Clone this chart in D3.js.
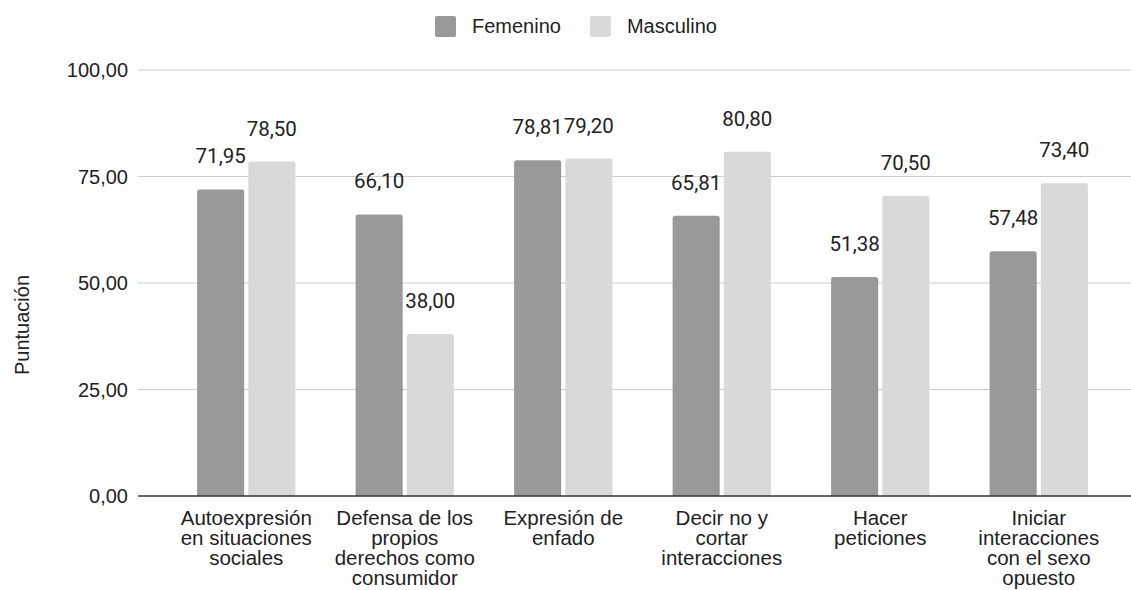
<!DOCTYPE html>
<html>
<head>
<meta charset="utf-8">
<script src="https://cdn.jsdelivr.net/npm/d3@7/dist/d3.min.js"></script>
<style>
  body { margin: 0; background: #fff; }
  svg { display: block; }
</style>
</head>
<body>
<svg id="chart" width="1131" height="590"></svg>
<script>
const categories = [
    "Autoexpresión en situaciones sociales",
    "Defensa de los propios derechos como consumidor",
    "Expresión de enfado",
    "Decir no y cortar interacciones",
    "Hacer peticiones",
    "Iniciar interacciones con el sexo opuesto"
];
const categoryLines = [
    ["Autoexpresión", "en situaciones", "sociales"],
    ["Defensa de los", "propios", "derechos como", "consumidor"],
    ["Expresión de", "enfado"],
    ["Decir no y", "cortar", "interacciones"],
    ["Hacer", "peticiones"],
    ["Iniciar", "interacciones", "con el sexo", "opuesto"]
];
const seriesNames = ["Femenino", "Masculino"];
const femenino = [71.95, 66.10, 78.81, 65.81, 51.38, 57.48];
const masculino = [78.50, 38.00, 79.20, 80.80, 70.50, 73.40];
const yTicks = [0, 25, 50, 75, 100];
const colors = ["#999999", "#d9d9d9"];

function drawChart() {
    const svg = d3.select("#chart");
    svg.selectAll("*").remove();

    const axisFont = "'Liberation Sans', Arial, sans-serif";
    const labelFont = "Roboto, 'Liberation Sans', sans-serif";
    const fmt = v => d3.format(".2f")(v).replace(".", ",");

    // plot area
    const gridLeft = 138, gridRight = 1131;
    const y = d3.scaleLinear().domain([0, 100]).range([496, 70]);

    const x = d3.scaleBand()
        .domain(categories)
        .range([167, 1118])
        .paddingInner(0.38)
        .paddingOuter(0.19);

    const xs = d3.scaleBand()
        .domain(seriesNames)
        .range([0, x.bandwidth()])
        .paddingInner(0.08);

    // gridlines + y tick labels
    svg.append("g").selectAll("line")
        .data(yTicks.filter(d => d !== 0))
        .enter().append("line")
        .attr("x1", gridLeft).attr("x2", gridRight)
        .attr("y1", d => y(d)).attr("y2", d => y(d))
        .attr("stroke", "#cccccc").attr("stroke-width", 1);

    svg.append("g").selectAll("text")
        .data(yTicks)
        .enter().append("text")
        .attr("x", 128)
        .attr("y", d => y(d))
        .attr("dy", "0.36em")
        .attr("text-anchor", "end")
        .attr("font-family", axisFont)
        .attr("font-size", "20px")
        .attr("fill", "#222")
        .text(d => fmt(d));

    // bars with rounded tops
    const rows = categories.map((c, i) => ({ cat: c, values: [femenino[i], masculino[i]] }));
    const barPath = (x0, w, top, bottom, r) =>
        `M${x0},${bottom}V${top + r}Q${x0},${top} ${x0 + r},${top}H${x0 + w - r}Q${x0 + w},${top} ${x0 + w},${top + r}V${bottom}Z`;

    const groups = svg.append("g").selectAll("g")
        .data(rows)
        .enter().append("g")
        .attr("transform", d => `translate(${x(d.cat)},0)`);

    groups.selectAll("path")
        .data(d => d.values.map((v, j) => ({ key: seriesNames[j], value: v, j: j })))
        .enter().append("path")
        .attr("d", d => barPath(xs(d.key), xs.bandwidth(), y(d.value), y(0), 2.5))
        .attr("fill", d => colors[d.j]);

    groups.selectAll("text")
        .data(d => d.values.map((v, j) => ({ key: seriesNames[j], value: v })))
        .enter().append("text")
        .attr("x", d => xs(d.key) + xs.bandwidth() / 2)
        .attr("y", d => y(d.value) - 26)
        .attr("text-anchor", "middle")
        .attr("font-family", labelFont)
        .attr("font-size", "20.5px")
        .attr("fill", "#222")
        .text(d => fmt(d.value));

    // baseline
    svg.append("line")
        .attr("x1", gridLeft).attr("x2", gridRight)
        .attr("y1", y(0)).attr("y2", y(0))
        .attr("stroke", "#333").attr("stroke-width", 1.5);

    // category labels
    const catLabels = svg.append("g").selectAll("text")
        .data(categories)
        .enter().append("text")
        .attr("text-anchor", "middle")
        .attr("font-family", axisFont)
        .attr("font-size", "20.5px")
        .attr("fill", "#222");

    catLabels.each(function (d, i) {
        const t = d3.select(this);
        categoryLines[i].forEach((line, k) => {
            t.append("tspan")
                .attr("x", x(d) + x.bandwidth() / 2)
                .attr("y", 525 + k * 20)
                .text(line);
        });
    });

    // y-axis title
    svg.append("text")
        .attr("transform", "translate(29,325) rotate(-90)")
        .attr("text-anchor", "middle")
        .attr("font-family", axisFont)
        .attr("font-size", "20px")
        .attr("fill", "#222")
        .text("Puntuación");

    // legend
    const legend = svg.append("g");
    let lx = 435;
    seriesNames.forEach((name, i) => {
        legend.append("rect")
            .attr("x", lx).attr("y", 16)
            .attr("width", 21).attr("height", 21)
            .attr("rx", 2)
            .attr("fill", colors[i]);
        const txt = legend.append("text")
            .attr("x", lx + 37).attr("y", 33)
            .attr("font-family", axisFont)
            .attr("font-size", "20px")
            .attr("fill", "#222")
            .text(name);
        lx += 37 + txt.node().getComputedTextLength() + 29;
    });
}

drawChart();
</script>
</body>
</html>
